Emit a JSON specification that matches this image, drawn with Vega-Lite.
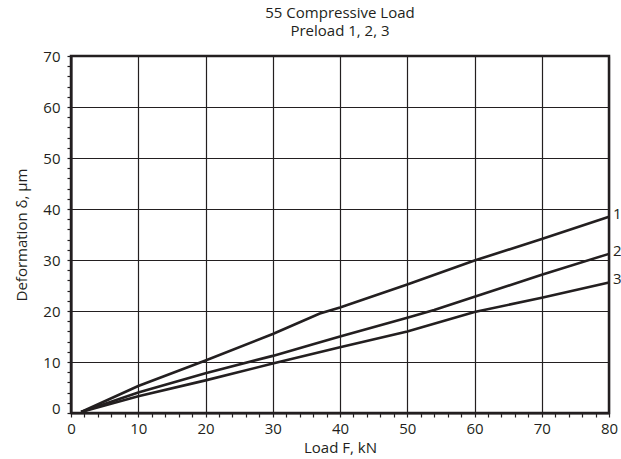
{
  "$schema": "https://vega.github.io/schema/vega-lite/v6.json",
  "autosize": "none",
  "width": 538,
  "height": 357,
  "padding": {"left": 71, "top": 56, "right": 12, "bottom": 46},
  "background": "white",
  "config": {
    "font": "Open Sans",
    "view": {"stroke": "#231f20", "strokeWidth": 2.5},
    "axis": {
      "domainColor": "#231f20",
      "domainWidth": 2,
      "tickColor": "#231f20",
      "tickWidth": 1.2,
      "tickSize": 4,
      "gridColor": "#231f20",
      "gridWidth": 1.2,
      "labelColor": "#231f20",
      "titleColor": "#231f20",
      "labelFontSize": 15,
      "titleFontSize": 15,
      "titleFontWeight": "normal",
      "labelFont": "Open Sans",
      "titleFont": "Open Sans"
    }
  },
  "title": {
    "text": ["55 Compressive Load", "Preload 1, 2, 3"],
    "fontSize": 15,
    "fontWeight": "normal",
    "font": "Open Sans",
    "color": "#231f20",
    "anchor": "middle",
    "offset": 10,
    "lineHeight": 18
  },
  "data": {
    "values": [
      {"series": "1", "x": 1.5, "y": 0.2},
      {"series": "1", "x": 10, "y": 5.3},
      {"series": "1", "x": 20, "y": 10.3},
      {"series": "1", "x": 30, "y": 15.5},
      {"series": "1", "x": 37, "y": 19.5},
      {"series": "1", "x": 40, "y": 20.7},
      {"series": "1", "x": 50, "y": 25.2},
      {"series": "1", "x": 60, "y": 29.9},
      {"series": "1", "x": 70, "y": 34.1},
      {"series": "1", "x": 80, "y": 38.5},
      {"series": "2", "x": 1.5, "y": 0.2},
      {"series": "2", "x": 10, "y": 4.0},
      {"series": "2", "x": 20, "y": 7.8},
      {"series": "2", "x": 30, "y": 11.2},
      {"series": "2", "x": 36, "y": 13.5},
      {"series": "2", "x": 40, "y": 15.0},
      {"series": "2", "x": 50, "y": 18.7},
      {"series": "2", "x": 54, "y": 20.2},
      {"series": "2", "x": 60, "y": 22.8},
      {"series": "2", "x": 70, "y": 27.1},
      {"series": "2", "x": 80, "y": 31.2},
      {"series": "3", "x": 1.5, "y": 0.2},
      {"series": "3", "x": 10, "y": 3.3},
      {"series": "3", "x": 20, "y": 6.4},
      {"series": "3", "x": 30, "y": 9.7},
      {"series": "3", "x": 40, "y": 12.9},
      {"series": "3", "x": 50, "y": 16.0},
      {"series": "3", "x": 60, "y": 19.8},
      {"series": "3", "x": 70, "y": 22.6},
      {"series": "3", "x": 80, "y": 25.6}
    ]
  },
  "encoding": {
    "x": {
      "field": "x",
      "type": "quantitative",
      "scale": {"domain": [0, 80], "nice": false, "zero": false},
      "axis": {
        "title": "Load F, kN",
        "values": [0,2,4,6,8,10,12,14,16,18,20,22,24,26,28,30,32,34,36,38,40,42,44,46,48,50,52,54,56,58,60,62,64,66,68,70,72,74,76,78,80],
        "labelExpr": "datum.value % 10 === 0 ? datum.label : ''",
        "gridOpacity": {"condition": {"test": "datum.value % 10 === 0", "value": 1}, "value": 0},
        "labelPadding": 4,
        "titlePadding": 4,
        "labelFlush": false,
        "labelOverlap": false
      }
    },
    "y": {
      "field": "y",
      "type": "quantitative",
      "scale": {"domain": [0, 70], "nice": false, "zero": false},
      "axis": {
        "title": "Deformation δ, µm",
        "values": [0,2,4,6,8,10,12,14,16,18,20,22,24,26,28,30,32,34,36,38,40,42,44,46,48,50,52,54,56,58,60,62,64,66,68,70],
        "labelExpr": "datum.value % 10 === 0 ? datum.label : ''",
        "gridOpacity": {"condition": {"test": "datum.value % 10 === 0", "value": 1}, "value": 0},
        "labelOffset": {"condition": {"test": "datum.value === 0", "value": -5}, "value": 0},
        "labelPadding": 7,
        "titlePadding": 13,
        "labelFlush": false,
        "labelOverlap": false
      }
    }
  },
  "layer": [
    {
      "mark": {"type": "line", "color": "#231f20", "strokeWidth": 2.6, "clip": false},
      "encoding": {"detail": {"field": "series", "type": "nominal"}}
    },
    {
      "transform": [{"filter": "datum.x === 80"}],
      "mark": {"type": "text", "align": "left", "baseline": "middle", "dx": 4, "dy": -3, "fontSize": 15, "color": "#231f20", "font": "Open Sans"},
      "encoding": {"text": {"field": "series", "type": "nominal"}}
    }
  ]
}
